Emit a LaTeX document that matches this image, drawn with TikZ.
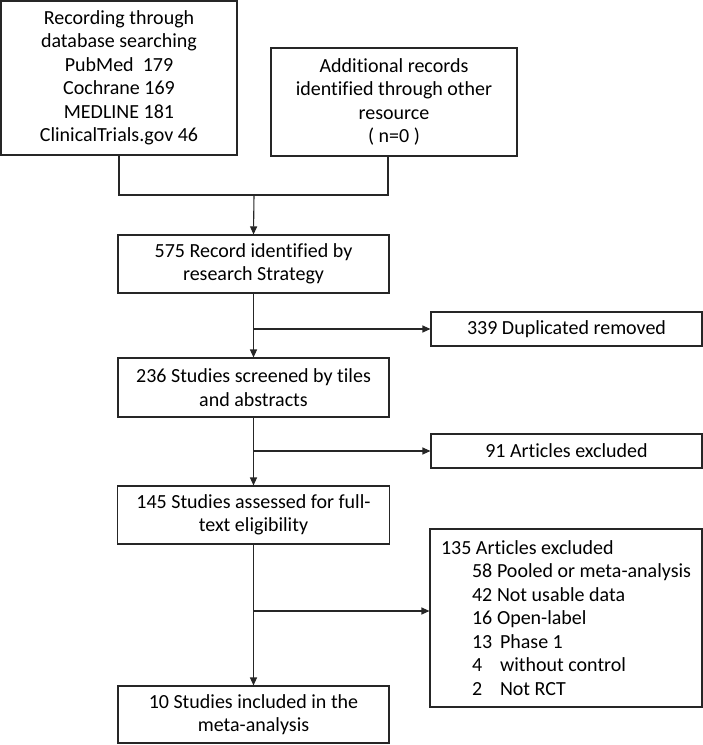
\documentclass[tikz,border=0pt]{standalone}
\usepackage{fontspec}
\setmainfont[Ligatures=NoCommon]{Carlito}
\usetikzlibrary{arrows.meta}
\begin{document}
\begin{tikzpicture}[x=1pt,y=-1pt,
  box/.style={draw=black!85,line width=1.1pt,rectangle,inner sep=0pt,align=center,
    font=\fontsize{20}{23.5}\selectfont},
  conn/.style={line width=1.1pt,draw=black!85},
  arr/.style={conn,-{Triangle[length=8pt,width=7pt]}}]
\useasboundingbox (0,0) rectangle (703,745);
\node[box,minimum width=236pt,minimum height=154pt] (A) at (119,78)
  {Recording through\\database searching\\PubMed\ \ 179\\Cochrane 169\\MEDLINE 181\\ClinicalTrials.gov 46};
\node[box,minimum width=246pt,minimum height=108pt] (B) at (394,102)
  {Additional records\\identified through other\\resource\\( n=0 )};
\node[box,minimum width=271pt,minimum height=58pt] (C) at (253.5,264)
  {575 Record identified by\\research Strategy};
\node[box,minimum width=271pt,minimum height=34pt] (D) at (566.5,329)
  {339 Duplicated removed};
\node[box,minimum width=271pt,minimum height=59pt] (E) at (253.5,387.5)
  {236 Studies screened by tiles\\and abstracts};
\node[box,minimum width=271pt,minimum height=34pt] (F) at (566.5,451)
  {91 Articles excluded};
\node[box,minimum width=272pt,minimum height=58pt] (G) at (253.5,515)
  {145 Studies assessed for full-\\text eligibility};
\node[box,minimum width=272pt,minimum height=178pt,align=left] (H) at (566,618)
  {135 Articles excluded\\
   \hspace*{31pt}\makebox[25pt][l]{58}Pooled or meta-analysis\\
   \hspace*{31pt}\makebox[25pt][l]{42}Not usable data\\
   \hspace*{31pt}\makebox[25pt][l]{16}Open-label\\
   \hspace*{31pt}\makebox[28pt][l]{13}Phase 1\\
   \hspace*{31pt}\makebox[28pt][l]{4}without control\\
   \hspace*{31pt}\makebox[28pt][l]{2}Not RCT};
\node[box,minimum width=271pt,minimum height=57pt] (I) at (253.5,714.5)
  {10 Studies included in the\\meta-analysis};
\coordinate (j) at (254,195);
\coordinate (bs) at ([xshift=-6pt]B.south);
\coordinate (b1) at (254,329);
\coordinate (b2) at (254,451);
\coordinate (b3) at (254,611);
\draw[conn] (A.south) |- (j);
\draw[conn] (bs) |- (j);
\draw[arr] (j) -- (C.north);
\draw[arr] (C.south) -- (E.north);
\draw[arr] (b1) -- (D.west);
\draw[arr] (E.south) -- (G.north);
\draw[arr] (b2) -- (F.west);
\draw[arr] (G.south) -- (I.north);
\draw[arr] (b3) -- (b3 -| H.west);
\end{tikzpicture}
\end{document}
